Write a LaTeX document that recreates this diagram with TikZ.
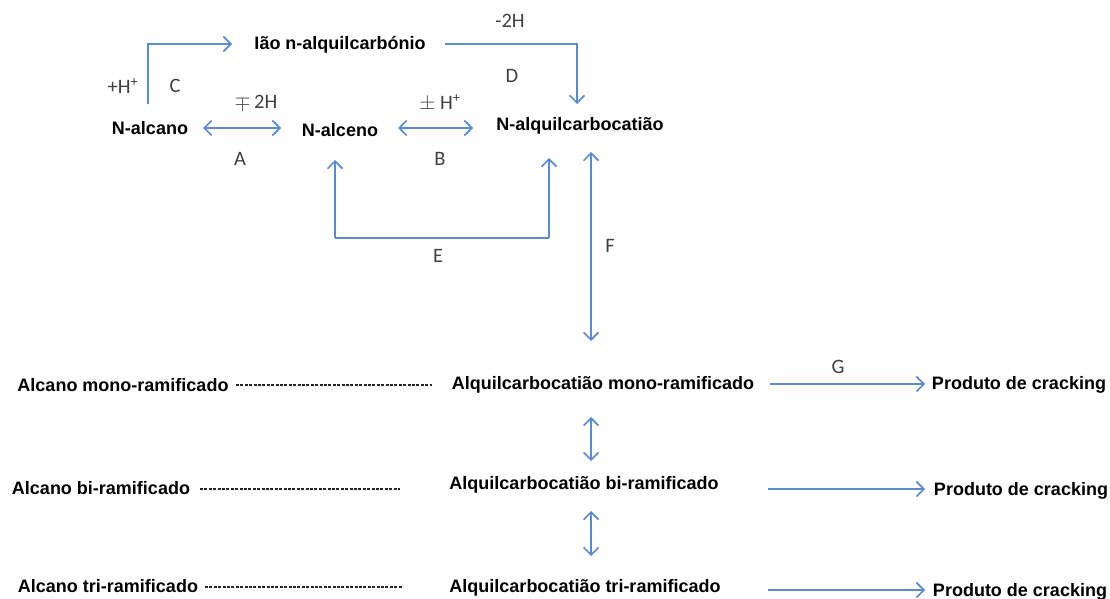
\documentclass[tikz,border=0pt]{standalone}
\usepackage{fontspec}
\setmainfont{Liberation Sans}
\newfontfamily\lblfont{Carlito}
\usetikzlibrary{arrows.meta}
\definecolor{arrblue}{RGB}{91,139,205}
\definecolor{lblgray}{RGB}{64,64,64}
\tikzset{
  chem/.style={font=\fontsize{18}{20}\selectfont\bfseries, inner sep=0pt},
  lbl/.style={font=\lblfont\fontsize{20.5}{22}\selectfont, text=lblgray, inner sep=0pt},
  conn/.style={draw=arrblue, line width=1.8pt, -{Straight Barb[length=7.5pt,width=15pt,line width=1.6pt]}},
  dconn/.style={draw=arrblue, line width=1.8pt, {Straight Barb[length=7.5pt,width=15pt,line width=1.6pt]}-{Straight Barb[length=7.5pt,width=15pt,line width=1.6pt]}},
  dashline/.style={draw=black!85, line width=1.3pt, dash pattern=on 3pt off 1.4pt}
}
\begin{document}
\begin{tikzpicture}[x=1pt,y=-1pt]
\useasboundingbox (0,0) rectangle (1110,599);
% top nodes
\node[chem] (iao) at (340,45) {Ião n-alquilcarbónio};
\node[chem] (alcano) at (150,128) {N-alcano};
\node[chem] (alceno) at (340,130) {N-alceno};
\node[chem] (cat) at (580,126) {N-alquilcarbocatião};
% coordinates
\coordinate (c0) at (148,104);
\coordinate (c1) at (232,44);
\coordinate (d0) at (445,44);
\coordinate (d1) at (577,104);
\coordinate (a0) at (203,128);
\coordinate (a1) at (281,128);
\coordinate (b0) at (398,128);
\coordinate (b1) at (473,128);
\coordinate (e0) at (335,160);
\coordinate (e1) at (549,158);
\coordinate (e2) at (335,238);
\coordinate (e3) at (549,238);
\coordinate (f0) at (591,152);
\coordinate (f1) at (591,341);
% connectors
\draw[conn] (c0) |- (c1);
\draw[conn] (d0) -| (d1);
\draw[dconn] (a0) -- (a1);
\draw[dconn] (b0) -- (b1);
\draw[conn] (e2) -- (e0);
\draw[arrblue, line width=1.8pt] (e2) -- (e3);
\draw[conn] (e3) -- (e1);
\draw[dconn] (f0) -- (f1);
% labels
\node[lbl] (lH) at (123,86) {+H\textsuperscript{+}};
\node[lbl] (lC) at (175,86) {C};
\node[lbl] (l2H) at (510,21) {-2H};
\node[lbl] (lD) at (512,76) {D};
\node[lbl] (lmp) at (256,103) {$\mp$\,2H};
\node[lbl] (lpm) at (440,103) {$\pm$ H\textsuperscript{+}};
\node[lbl] (lA) at (240,159) {A};
\node[lbl] (lB) at (440,159) {B};
\node[lbl] (lE) at (438,256) {E};
\node[lbl] (lF) at (610,246) {F};
\node[lbl] (lG) at (838,367) {G};
% bottom rows
\node[chem] (am) at (123,385) {Alcano mono-ramificado};
\node[chem] (cm) at (603,385) {Alquilcarbocatião mono-ramificado};
\node[chem] (pm) at (1019,385) {Produto de cracking};
\node[chem] (ab) at (101,488) {Alcano bi-ramificado};
\node[chem] (cb) at (584,485) {Alquilcarbocatião bi-ramificado};
\node[chem] (pb) at (1021,491) {Produto de cracking};
\node[chem] (at) at (108,586) {Alcano tri-ramificado};
\node[chem] (ct) at (585,588) {Alquilcarbocatião tri-ramificado};
\node[chem] (pt) at (1020,592) {Produto de cracking};
\coordinate (m0) at (236,385);
\coordinate (m1) at (432,385);
\coordinate (n0) at (200,489);
\coordinate (n1) at (400,489);
\coordinate (o0) at (205,587);
\coordinate (o1) at (403,587);
\draw[dashline] (m0) -- (m1);
\draw[dashline] (n0) -- (n1);
\draw[dashline] (o0) -- (o1);
\coordinate (p0) at (770,384);
\coordinate (p1) at (925,384);
\coordinate (q0) at (768,489);
\coordinate (q1) at (925,489);
\coordinate (r0) at (768,590);
\coordinate (r1) at (925,590);
\draw[conn] (p0) -- (p1);
\draw[conn] (q0) -- (q1);
\draw[conn] (r0) -- (r1);
\coordinate (g0) at (591,417);
\coordinate (g1) at (591,461);
\coordinate (h0) at (591,511);
\coordinate (h1) at (591,556);
\draw[dconn] (g0) -- (g1);
\draw[dconn] (h0) -- (h1);
\end{tikzpicture}
\end{document}
